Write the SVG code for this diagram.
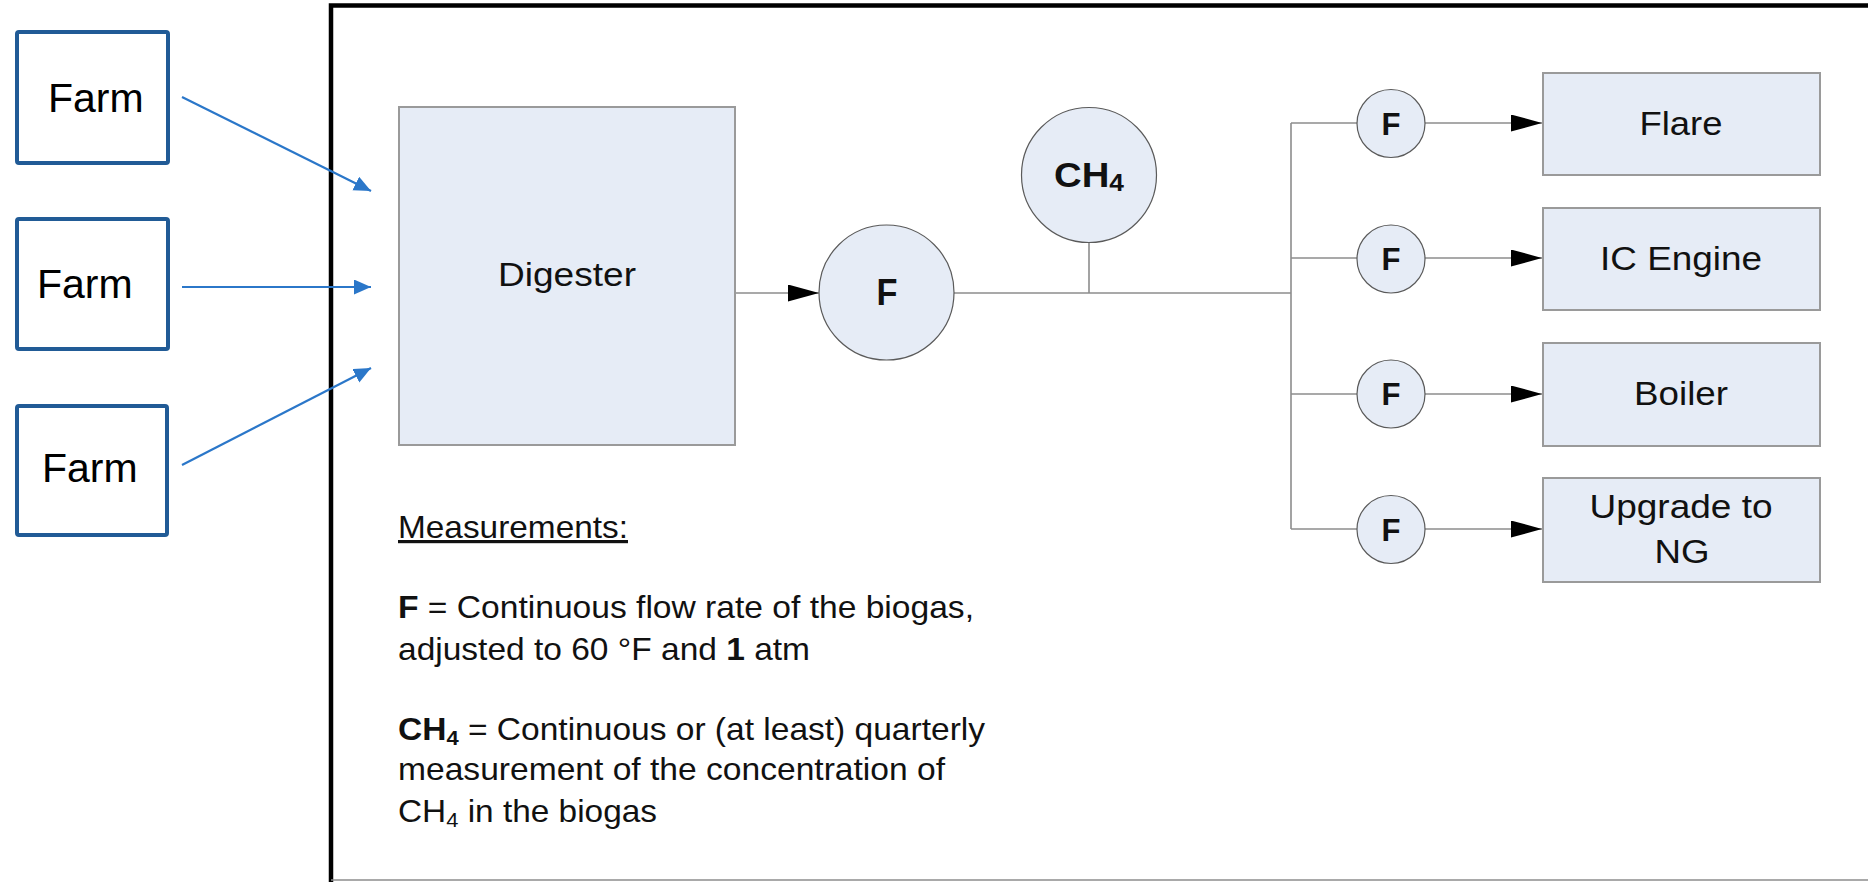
<svg xmlns="http://www.w3.org/2000/svg" width="1868" height="882" viewBox="0 0 1868 882">
<style>
.farm{fill:#fff;stroke:#215B96;stroke-width:4}
.ft{font-family:"Liberation Sans",Arial,sans-serif;font-size:41px;fill:#000}
.box{fill:#E6ECF6;stroke:#9A9A9A;stroke-width:2}
.circ{fill:#E6ECF6;stroke:#5A5A5A;stroke-width:1.2}
.lbl{font-family:"Liberation Sans",Arial,sans-serif;font-size:33px;fill:#111;text-anchor:middle}
.fb{font-family:"Liberation Sans",Arial,sans-serif;font-weight:bold;fill:#111;text-anchor:middle}
.pipe{fill:none;stroke:#8C8C8C;stroke-width:1.6}
.blue{fill:none;stroke:#2B77C9;stroke-width:2.2}
.meas{font-family:"Liberation Sans",Arial,sans-serif;font-size:32px;fill:#111}
</style>
<defs>
<marker id="ab" markerUnits="userSpaceOnUse" markerWidth="32" markerHeight="18" refX="31" refY="8.5" orient="auto">
<path d="M0,0 L31,8.5 L0,17 z" fill="#000"/>
</marker>
<marker id="ablue" markerUnits="userSpaceOnUse" markerWidth="18" markerHeight="16" refX="17" refY="7.5" orient="auto">
<path d="M0,0 L17,7.5 L0,15 z" fill="#2B77C9"/>
</marker>
</defs>
<rect width="1868" height="882" fill="#fff"/>

<g id="frame">
<path d="M331,882 V5.5 H1868" fill="none" stroke="#000" stroke-width="4.5"/>
<line x1="331" y1="880" x2="1868" y2="880" stroke="#8C8C8C" stroke-width="1.5"/>
</g>

<g id="connectors">
<line class="blue" x1="182" y1="97" x2="371" y2="191" marker-end="url(#ablue)"/>
<line class="blue" x1="182" y1="287" x2="371" y2="287" marker-end="url(#ablue)"/>
<line class="blue" x1="182" y1="465" x2="371" y2="368" marker-end="url(#ablue)"/>
<line class="pipe" x1="735" y1="293" x2="819" y2="293" marker-end="url(#ab)"/>
<line class="pipe" x1="954" y1="293" x2="1291" y2="293"/>
<line class="pipe" x1="1089" y1="242" x2="1089" y2="293"/>
<line class="pipe" x1="1291" y1="123" x2="1291" y2="529"/>
<line class="pipe" x1="1291" y1="123" x2="1357" y2="123"/>
<line class="pipe" x1="1291" y1="258" x2="1357" y2="258"/>
<line class="pipe" x1="1291" y1="394" x2="1357" y2="394"/>
<line class="pipe" x1="1291" y1="529" x2="1357" y2="529"/>
<line class="pipe" x1="1425" y1="123" x2="1542" y2="123" marker-end="url(#ab)"/>
<line class="pipe" x1="1425" y1="258" x2="1542" y2="258" marker-end="url(#ab)"/>
<line class="pipe" x1="1425" y1="394" x2="1542" y2="394" marker-end="url(#ab)"/>
<line class="pipe" x1="1425" y1="529" x2="1542" y2="529" marker-end="url(#ab)"/>
</g>

<g id="farm1"><rect class="farm" x="17" y="32" width="151" height="131" rx="2"/><text class="ft" x="48" y="112">Farm</text></g>
<g id="farm2"><rect class="farm" x="17" y="219" width="151" height="130" rx="2"/><text class="ft" x="37" y="298">Farm</text></g>
<g id="farm3"><rect class="farm" x="17" y="406" width="150" height="129" rx="2"/><text class="ft" x="42" y="482">Farm</text></g>

<g id="digester"><rect class="box" x="399" y="107" width="336" height="338"/><text class="lbl" x="567" y="286" textLength="138" lengthAdjust="spacingAndGlyphs">Digester</text></g>

<g id="meter-main"><circle class="circ" cx="886.5" cy="292.5" r="67.5"/><text class="fb" x="887" y="305" font-size="37" textLength="21" lengthAdjust="spacingAndGlyphs">F</text></g>

<g id="ch4"><circle class="circ" cx="1089" cy="175" r="67.5"/><text class="fb" x="1089" y="187" font-size="35" textLength="70" lengthAdjust="spacingAndGlyphs">CH<tspan font-size="24" dy="4">4</tspan></text></g>

<g id="f1"><circle class="circ" cx="1391" cy="123.5" r="34"/><text class="fb" x="1391" y="135" font-size="32" textLength="19" lengthAdjust="spacingAndGlyphs">F</text></g>
<g id="f2"><circle class="circ" cx="1391" cy="259" r="34"/><text class="fb" x="1391" y="270" font-size="32" textLength="19" lengthAdjust="spacingAndGlyphs">F</text></g>
<g id="f3"><circle class="circ" cx="1391" cy="394" r="34"/><text class="fb" x="1391" y="405" font-size="32" textLength="19" lengthAdjust="spacingAndGlyphs">F</text></g>
<g id="f4"><circle class="circ" cx="1391" cy="529.5" r="34"/><text class="fb" x="1391" y="541" font-size="32" textLength="19" lengthAdjust="spacingAndGlyphs">F</text></g>

<g id="flare"><rect class="box" x="1543" y="73" width="277" height="102"/><text class="lbl" x="1681" y="135" textLength="83" lengthAdjust="spacingAndGlyphs">Flare</text></g>
<g id="icengine"><rect class="box" x="1543" y="208" width="277" height="102"/><text class="lbl" x="1681" y="270" textLength="162" lengthAdjust="spacingAndGlyphs">IC Engine</text></g>
<g id="boiler"><rect class="box" x="1543" y="343" width="277" height="103"/><text class="lbl" x="1681" y="405" textLength="94" lengthAdjust="spacingAndGlyphs">Boiler</text></g>
<g id="upgrade"><rect class="box" x="1543" y="478" width="277" height="104"/><text class="lbl" x="1681" y="518" textLength="183" lengthAdjust="spacingAndGlyphs">Upgrade to</text><text class="lbl" x="1682" y="563" textLength="55" lengthAdjust="spacingAndGlyphs">NG</text></g>

<g id="legend">
<text class="meas" x="398" y="538" textLength="230" lengthAdjust="spacingAndGlyphs" text-decoration="underline">Measurements:</text>
<text class="meas" x="398" y="618" textLength="576" lengthAdjust="spacingAndGlyphs"><tspan font-weight="bold">F</tspan> = Continuous flow rate of the biogas,</text>
<text class="meas" x="398" y="660" textLength="412" lengthAdjust="spacingAndGlyphs">adjusted to 60 °F and <tspan font-weight="bold">1</tspan> atm</text>
<text class="meas" x="398" y="740" textLength="587" lengthAdjust="spacingAndGlyphs"><tspan font-weight="bold">CH</tspan><tspan font-weight="bold" font-size="21" dy="5">4</tspan><tspan dy="-5"> = Continuous or (at least) quarterly</tspan></text>
<text class="meas" x="398" y="780" textLength="547" lengthAdjust="spacingAndGlyphs">measurement of the concentration of</text>
<text class="meas" x="398" y="822" textLength="259" lengthAdjust="spacingAndGlyphs">CH<tspan font-size="21" dy="5">4</tspan><tspan dy="-5"> in the biogas</tspan></text>
</g>
</svg>
